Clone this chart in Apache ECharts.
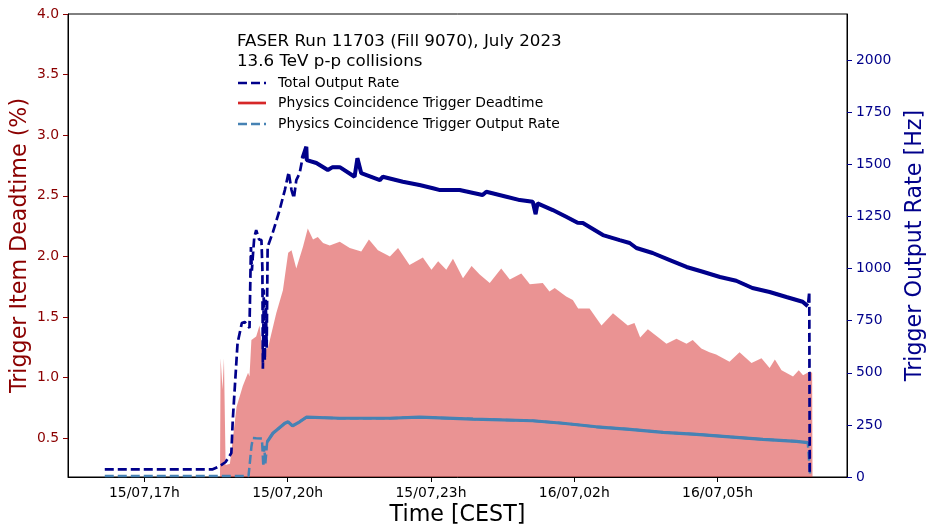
<!DOCTYPE html>
<html>
<head>
<meta charset="utf-8">
<script src="https://cdn.jsdelivr.net/npm/echarts@6/dist/echarts.min.js"></script>
<style>
  html, body { margin: 0; padding: 0; background: #fff; }
  #chart { width: 928px; height: 528px; }
</style>
</head>
<body>
<div id="chart"></div>
<script>
// Time axis: hours counted from 15/07 00:00 (CEST)
const xTickHours = [17, 20, 23, 26, 29];
const xTickLabels = ['15/07,17h', '15/07,20h', '15/07,23h', '16/07,02h', '16/07,05h'];
const leftTicks = [0.5, 1.0, 1.5, 2.0, 2.5, 3.0, 3.5, 4.0];
const rightTicks = [0, 250, 500, 750, 1000, 1250, 1500, 1750, 2000];

// Total output rate [Hz]
const totalHours = [16.17, 18.43, 18.58, 18.70, 18.82, 18.85, 18.95, 19.04, 19.10, 19.17,
  19.20, 19.23, 19.25, 19.27, 19.30, 19.34, 19.40, 19.45, 19.47, 19.48,
  19.50, 19.52, 19.54, 19.56, 19.58, 19.69, 19.83, 19.94, 20.02, 20.08,
  20.13, 20.18, 20.25, 20.31, 20.39, 20.40, 20.60, 20.84, 20.94, 21.09,
  21.40, 21.46, 21.54, 21.93, 21.99, 22.41, 22.76, 23.04, 23.19, 23.60,
  24.08, 24.16, 24.58, 24.86, 25.13, 25.19, 25.23, 25.55, 25.83, 26.07,
  26.18, 26.60, 26.95, 27.16, 27.30, 27.64, 28.00, 28.35, 28.69, 29.05,
  29.39, 29.73, 30.09, 30.44, 30.78, 30.89, 30.92, 30.93];
const totalRate = [37, 37, 53, 72, 115, 274, 643, 739, 744, 725,
  715, 1104, 990, 1060, 1150, 1185, 1140, 1137, 1000, 520,
  900, 560, 850, 620, 1104, 1175, 1281, 1377, 1463, 1377,
  1338, 1425, 1458, 1530, 1585, 1521, 1507, 1473, 1487, 1487,
  1441, 1530, 1458, 1425, 1441, 1417, 1401, 1386, 1377, 1377,
  1353, 1369, 1345, 1329, 1321, 1262, 1313, 1281, 1249, 1220,
  1219, 1161, 1137, 1123, 1099, 1075, 1041, 1008, 985, 960,
  942, 907, 888, 864, 841, 820, 889, 10];

// Physics coincidence trigger output rate [Hz]
const physHours = [16.17, 19.18, 19.21, 19.24, 19.27, 19.34, 19.46, 19.49, 19.51, 19.53,
  19.57, 19.69, 19.94, 20.01, 20.10, 20.25, 20.39, 21.09, 22.14, 22.76,
  23.88, 25.13, 25.76, 26.46, 27.16, 27.86, 28.56, 29.25, 29.95, 30.65,
  30.89, 30.94];
const physRate = [5, 5, 10, 145, 187, 186, 185, 50, 150, 60,
  169, 210, 258, 265, 245, 265, 287, 282, 282, 287,
  278, 270, 258, 241, 229, 214, 205, 193, 181, 171,
  165, 2];

// Physics coincidence trigger deadtime [%]
const deadHours = [18.58, 18.595, 18.625, 18.635, 18.655, 18.665, 18.695, 18.70, 18.79, 18.93,
  19.06, 19.17, 19.20, 19.24, 19.34, 19.41, 19.48, 19.59, 19.76, 19.90,
  20.01, 20.08, 20.18, 20.32, 20.42, 20.53, 20.63, 20.74, 20.88, 21.09,
  21.30, 21.54, 21.70, 21.89, 22.14, 22.31, 22.55, 22.83, 23.01, 23.15,
  23.32, 23.46, 23.67, 23.85, 24.02, 24.23, 24.47, 24.65, 24.89, 25.07,
  25.34, 25.48, 25.59, 25.83, 25.97, 26.08, 26.32, 26.57, 26.81, 27.12,
  27.26, 27.38, 27.54, 27.93, 28.14, 28.35, 28.48, 28.66, 28.83, 28.97,
  29.25, 29.46, 29.71, 29.92, 30.09, 30.20, 30.34, 30.58, 30.70, 30.79,
  30.93, 30.98, 30.99];
const deadPct = [0, 1.16, 1.16, 0.90, 0.90, 1.16, 1.16, 0.28, 0.29, 0.76,
  0.93, 1.04, 1.01, 1.31, 1.34, 1.43, 1.20, 1.25, 1.53, 1.72,
  2.03, 2.05, 1.90, 2.08, 2.23, 2.14, 2.16, 2.11, 2.09, 2.12,
  2.07, 2.04, 2.14, 2.05, 2.00, 2.07, 1.93, 1.99, 1.89, 1.96,
  1.89, 1.98, 1.82, 1.92, 1.85, 1.78, 1.90, 1.81, 1.86, 1.77,
  1.78, 1.71, 1.74, 1.67, 1.64, 1.57, 1.57, 1.43, 1.53, 1.43,
  1.45, 1.33, 1.40, 1.28, 1.32, 1.28, 1.31, 1.24, 1.21, 1.19,
  1.13, 1.21, 1.12, 1.16, 1.08, 1.15, 1.06, 1.01, 1.06, 1.02,
  1.05, 1.04, 0];

const FONT = 'DejaVu Sans';
const DARK_BLUE = '#00008b';
const STEEL = '#4682b4';
const DARK_RED = '#8b0000';

const pairs = (xs, ys) => xs.map((x, i) => [x, ys[i]]);
// densely sampled stretches of the rate curves read as a continuous band
const within = (pts, a, b) => pts.filter(p => p[0] >= a && p[0] <= b);

const totalPts = pairs(totalHours, totalRate);
const physPts = pairs(physHours, physRate);
const deadPts = pairs(deadHours, deadPct);

const xLabel = v => {
  const i = xTickHours.findIndex(h => Math.abs(h - v) < 1e-6);
  return i >= 0 ? xTickLabels[i] : '';
};

const chart = echarts.init(document.getElementById('chart'), null, { renderer: 'canvas' });
chart.setOption({
  animation: false,
  backgroundColor: '#fff',
  textStyle: { fontFamily: FONT },
  grid: { left: 68, right: 81, top: 14, bottom: 51, show: true, borderColor: '#000', borderWidth: 1, backgroundColor: 'transparent' },
  xAxis: {
    type: 'value', min: 15.40, max: 31.71,
    axisLine: { show: true, onZero: false, lineStyle: { color: '#000', width: 1 } },
    axisTick: { show: true, customValues: xTickHours, length: 5, lineStyle: { color: '#000', width: 1 } },
    axisLabel: { customValues: xTickHours, formatter: xLabel, color: '#000', fontFamily: FONT, fontSize: 13.9, margin: 9 },
    splitLine: { show: false }
  },
  yAxis: [{
    type: 'value', min: 0.18, max: 4.0, position: 'left',
    axisLine: { show: true, lineStyle: { color: '#000', width: 1 } },
    axisTick: { show: true, customValues: leftTicks, length: 5, lineStyle: { color: DARK_RED, width: 1 } },
    axisLabel: { customValues: leftTicks, formatter: v => v.toFixed(1), color: DARK_RED, fontFamily: FONT, fontSize: 13.9, margin: 9 },
    splitLine: { show: false }
  }, {
    type: 'value', min: 0, max: 2222, position: 'right',
    axisLine: { show: true, lineStyle: { color: '#000', width: 1 } },
    axisTick: { show: true, customValues: rightTicks, length: 5, lineStyle: { color: DARK_BLUE, width: 1 } },
    axisLabel: { customValues: rightTicks, formatter: v => String(v), color: DARK_BLUE, fontFamily: FONT, fontSize: 13.9, margin: 9 },
    splitLine: { show: false }
  }],
  series: [{
    name: 'Physics Coincidence Trigger Deadtime', type: 'line', yAxisIndex: 0,
    data: deadPts, showSymbol: false, z: 1,
    lineStyle: { width: 0, opacity: 0 },
    areaStyle: { color: 'rgba(214,39,40,0.5)', opacity: 1, origin: 'start' }
  }, {
    name: 'Physics Coincidence Trigger Output Rate', type: 'line', yAxisIndex: 1,
    data: physPts, showSymbol: false, z: 3,
    lineStyle: { color: STEEL, width: 2.5, type: [9, 4] }
  }, {
    name: 'Physics Coincidence Trigger Output Rate (dense)', type: 'line', yAxisIndex: 1,
    data: within(physPts, 19.57, 30.89), showSymbol: false, z: 3,
    lineStyle: { color: STEEL, width: 3.2 }
  }, {
    name: 'Total Output Rate', type: 'line', yAxisIndex: 1,
    data: totalPts, showSymbol: false, z: 4,
    lineStyle: { color: DARK_BLUE, width: 2.7, type: [9, 4] }
  }, {
    name: 'Total Output Rate (dense)', type: 'line', yAxisIndex: 1,
    data: within(totalPts, 20.31, 30.89), showSymbol: false, z: 4,
    lineStyle: { color: DARK_BLUE, width: 4 }
  }],
  graphic: [
    { type: 'text', x: 20, y: 245.5, rotation: Math.PI / 2,
      style: { text: 'Trigger Item Deadtime (%)', fill: DARK_RED, font: '22.2px "DejaVu Sans"', align: 'center', verticalAlign: 'middle' } },
    { type: 'text', x: 915, y: 245.5, rotation: Math.PI / 2,
      style: { text: 'Trigger Output Rate [Hz]', fill: DARK_BLUE, font: '22.2px "DejaVu Sans"', align: 'center', verticalAlign: 'middle' } },
    { type: 'text', x: 457.5, y: 515,
      style: { text: 'Time [CEST]', fill: '#000', font: '22.2px "DejaVu Sans"', align: 'center', verticalAlign: 'middle' } },
    // legend block
    { type: 'text', x: 237, y: 42,
      style: { text: 'FASER Run 11703 (Fill 9070), July 2023', fill: '#000', font: '16.7px "DejaVu Sans"', align: 'left', verticalAlign: 'middle' } },
    { type: 'text', x: 237, y: 61.5,
      style: { text: '13.6 TeV p-p collisions', fill: '#000', font: '16.7px "DejaVu Sans"', align: 'left', verticalAlign: 'middle' } },
    { type: 'line', shape: { x1: 238, y1: 83, x2: 266, y2: 83 },
      style: { stroke: DARK_BLUE, lineWidth: 2.7, lineDash: [9, 4] } },
    { type: 'text', x: 278, y: 83,
      style: { text: 'Total Output Rate', fill: '#000', font: '13.9px "DejaVu Sans"', align: 'left', verticalAlign: 'middle' } },
    { type: 'line', shape: { x1: 238, y1: 103, x2: 266, y2: 103 },
      style: { stroke: '#d62728', lineWidth: 2.7 } },
    { type: 'text', x: 278, y: 103,
      style: { text: 'Physics Coincidence Trigger Deadtime', fill: '#000', font: '13.9px "DejaVu Sans"', align: 'left', verticalAlign: 'middle' } },
    { type: 'line', shape: { x1: 238, y1: 124, x2: 266, y2: 124 },
      style: { stroke: STEEL, lineWidth: 2.7, lineDash: [9, 4] } },
    { type: 'text', x: 278, y: 124,
      style: { text: 'Physics Coincidence Trigger Output Rate', fill: '#000', font: '13.9px "DejaVu Sans"', align: 'left', verticalAlign: 'middle' } }
  ]
});
</script>
</body>
</html>
